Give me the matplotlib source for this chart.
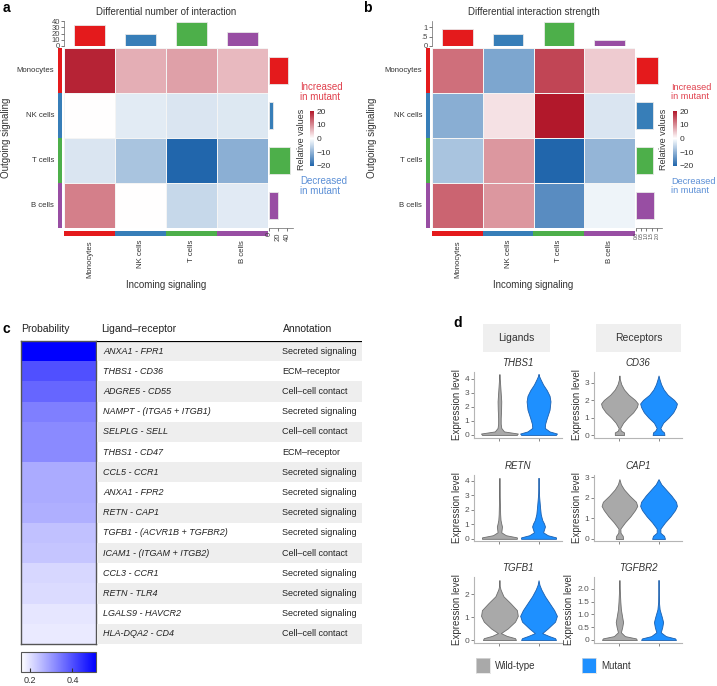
import numpy as np
import matplotlib
matplotlib.use("Agg")
import matplotlib.pyplot as plt
from matplotlib.colors import LinearSegmentedColormap, Normalize
from matplotlib.cm import ScalarMappable

plt.rcParams['font.family'] = ['Liberation Sans', 'DejaVu Sans']

W, H = 717, 686

# ---- panel a / b data ----
cell_types = ['Monocytes', 'NK cells', 'T cells', 'B cells']
cell_colors = ['#e41a1c', '#377eb8', '#4daf4a', '#984ea3']

# rows = outgoing (sender), cols = incoming (receiver)
count_diff = [[19, 7, 8.2, 6],
              [0, -2.6, -3.3, -3],
              [-3.3, -7.8, -20, -10.4],
              [11, 0, -5.1, -2.7]]
count_incoming = [33.6, 18.7, 38, 23]
count_outgoing = [42, 9, 47, 20]

strength_diff = [[12.4, -11.7, 16, 4.4],
                 [-10.5, 2.6, 20, -3.3],
                 [-7.7, 9, -20, -9.6],
                 [13.4, 9, -14.9, -1.5]]
strength_incoming = [0.88, 0.63, 1.28, 0.32]
strength_outgoing = [2.1, 1.65, 1.65, 1.7]

# ---- panel c data ----
pairs = ['ANXA1 - FPR1', 'THBS1 - CD36', 'ADGRE5 - CD55', 'NAMPT - (ITGA5 + ITGB1)',
         'SELPLG - SELL', 'THBS1 - CD47', 'CCL5 - CCR1', 'ANXA1 - FPR2', 'RETN - CAP1',
         'TGFB1 - (ACVR1B + TGFBR2)', 'ICAM1 - (ITGAM + ITGB2)', 'CCL3 - CCR1',
         'RETN - TLR4', 'LGALS9 - HAVCR2', 'HLA-DQA2 - CD4']
annotations = ['Secreted signaling', 'ECM\u2013receptor', 'Cell\u2013cell contact',
               'Secreted signaling', 'Cell\u2013cell contact', 'ECM\u2013receptor',
               'Secreted signaling', 'Secreted signaling', 'Secreted signaling',
               'Secreted signaling', 'Cell\u2013cell contact', 'Secreted signaling',
               'Secreted signaling', 'Secreted signaling', 'Cell\u2013cell contact']
probability = [0.51, 0.40, 0.37, 0.335, 0.32, 0.32, 0.275, 0.275, 0.27,
               0.245, 0.24, 0.215, 0.21, 0.195, 0.19]

# ---- panel d data: violin outlines (level, relative half width) ----
thbs1_y = [0, 0.1, 0.25, 0.5, 0.8, 1.2, 1.8, 2.4, 2.8, 3.2, 3.6, 4.0, 4.3, 4.35]
thbs1_wt = [0.95, 1.0, 0.25, 0.1, 0.07, 0.07, 0.09, 0.1, 0.08, 0.06, 0.04, 0.02, 0.005, 0]
thbs1_mut = [0.95, 1.0, 0.6, 0.34, 0.36, 0.45, 0.6, 0.65, 0.6, 0.45, 0.25, 0.1, 0, 0]

cd36_y = [0, 0.15, 0.25, 0.4, 0.7, 1.0, 1.3, 1.6, 1.8, 2.0, 2.3, 2.6, 2.9, 3.2, 3.4]
cd36_wt = [0.25, 0.25, 0.08, 0.04, 0.2, 0.45, 0.75, 0.95, 1.0, 0.85, 0.5, 0.25, 0.1, 0.02, 0]
cd36_mut = [0.32, 0.3, 0.18, 0.1, 0.25, 0.55, 0.8, 0.95, 1.0, 0.85, 0.5, 0.28, 0.14, 0.05, 0]

retn_y = [0, 0.1, 0.25, 0.45, 0.65, 0.85, 1.05, 1.3, 1.7, 2.2, 2.8, 3.5, 4.2]
retn_wt = [0.95, 0.95, 0.35, 0.1, 0.12, 0.14, 0.1, 0.06, 0.04, 0.03, 0.02, 0.01, 0]
retn_mut = [0.95, 0.95, 0.5, 0.25, 0.3, 0.35, 0.3, 0.2, 0.12, 0.08, 0.04, 0, 0]

cap1_y = [0, 0.15, 0.3, 0.5, 0.8, 1.1, 1.4, 1.6, 1.8, 2.1, 2.4, 2.65, 2.9]
cap1_wt = [0.2, 0.18, 0.06, 0.05, 0.3, 0.6, 0.85, 0.97, 0.9, 0.55, 0.25, 0.08, 0]
cap1_mut = [0.35, 0.3, 0.1, 0.1, 0.35, 0.65, 0.9, 1.0, 0.95, 0.7, 0.4, 0.15, 0]

tgfb1_y = [0, 0.08, 0.18, 0.3, 0.5, 0.8, 1.05, 1.3, 1.6, 1.9, 2.2, 2.4, 2.6]
tgfb1_wt = [0.9, 0.85, 0.4, 0.08, 0.45, 0.85, 1.0, 0.95, 0.6, 0.22, 0.06, 0, 0]
tgfb1_mut = [0.95, 0.9, 0.55, 0.2, 0.5, 0.9, 1.0, 0.85, 0.6, 0.35, 0.15, 0.05, 0]

tgfbr2_y = [0, 0.06, 0.15, 0.3, 0.5, 0.7, 0.9, 1.2, 1.5, 1.8, 2.1, 2.35]
tgfbr2_wt = [0.95, 0.9, 0.3, 0.08, 0.15, 0.2, 0.15, 0.08, 0.05, 0.03, 0.015, 0]
tgfbr2_mut = [0.95, 0.9, 0.4, 0.12, 0.2, 0.25, 0.18, 0.06, 0.02, 0, 0, 0]

RED_TXT = '#e0404d'
BLUE_TXT = '#5b8fd6'


def ax_px(fig, x0, y0, x1, y1):
    return fig.add_axes([x0 / W, 1 - y1 / H, (x1 - x0) / W, (y1 - y0) / H])


def txt(fig, x, y, s, **kw):
    return fig.text(x / W, 1 - y / H, s, **kw)


fig = plt.figure(figsize=(W / 100, H / 100), dpi=100)
diff_cmap = LinearSegmentedColormap.from_list('diff', ['#2166ac', '#ffffff', '#b2182b'])


def draw_interaction(hx0, hx1, title, values, incoming, outgoing, top_lim, top_ticks, top_labels,
                     right_lim, right_ticks, right_labels, right_fs, right_x1, cbar_x, note_x, note_fs,
                     rel_x, out_x):
    hy0, hy1 = 48, 228
    # heatmap
    ax = ax_px(fig, hx0, hy0, hx1, hy1)
    ax.pcolormesh(np.array(values), cmap=diff_cmap, vmin=-20, vmax=20,
                  edgecolors='#f4f4f4', linewidth=0.6)
    ax.set_ylim(4, 0)
    ax.set_xlim(0, 4)
    ax.axis('off')
    rh = (hy1 - hy0) / 4
    cw = (hx1 - hx0) / 4
    for i, name in enumerate(cell_types):
        txt(fig, hx0 - 10, hy0 + rh * (i + 0.5), name, ha='right', va='center', fontsize=5.6, color='#333')
        txt(fig, hx0 + cw * (i + 0.5), 240, name, ha='center', va='top', rotation=90, fontsize=5.6, color='#333')
    # colour strips
    strip_cmap = LinearSegmentedColormap.from_list('c', cell_colors, N=4)
    sl = ax_px(fig, hx0 - 6, hy0, hx0 - 2, hy1)
    sl.imshow(np.arange(4).reshape(4, 1), cmap=strip_cmap, aspect='auto')
    sl.axis('off')
    sb = ax_px(fig, hx0, 231, hx1, 236)
    sb.imshow(np.arange(4).reshape(1, 4), cmap=strip_cmap, aspect='auto')
    sb.axis('off')
    # top bars (incoming)
    at = ax_px(fig, hx0, 21, hx1, 46)
    at.bar(np.arange(4), incoming, width=0.6, color=cell_colors, edgecolor='#e8e8e8', linewidth=0.6)
    at.set_xlim(-0.5, 3.5)
    at.set_ylim(0, top_lim)
    at.set_yticks(top_ticks)
    at.set_yticklabels(top_labels)
    at.tick_params(axis='y', labelsize=5.5, length=2, pad=1, colors='#444', width=0.5)
    at.set_xticks([])
    for s in ['top', 'right', 'bottom']:
        at.spines[s].set_visible(False)
    at.spines['left'].set_linewidth(0.5)
    at.spines['left'].set_color('#666')
    # right bars (outgoing)
    ar = ax_px(fig, hx1 + 1, hy0, right_x1, hy1)
    ar.barh(np.arange(4), outgoing, height=0.6, color=cell_colors, edgecolor='#e8e8e8', linewidth=0.6)
    ar.set_ylim(3.5, -0.5)
    ar.set_xlim(0, right_lim)
    ar.set_xticks(right_ticks)
    ar.set_xticklabels(right_labels, rotation=90)
    ar.tick_params(axis='x', labelsize=right_fs, length=2, pad=1, colors='#444', width=0.5)
    ar.set_yticks([])
    for s in ['top', 'right', 'left']:
        ar.spines[s].set_visible(False)
    ar.spines['bottom'].set_linewidth(0.5)
    ar.spines['bottom'].set_color('#666')
    # colourbar
    cax = ax_px(fig, cbar_x, 111, cbar_x + 4, 166)
    cb = fig.colorbar(ScalarMappable(Normalize(-20, 20), diff_cmap), cax=cax, ticks=[20, 10, 0, -10, -20])
    cb.outline.set_visible(False)
    cb.ax.tick_params(labelsize=6, length=0, pad=2, colors='#333')
    cb.ax.set_yticklabels(['20', '10', '0', '\u221210', '\u221220'])
    txt(fig, rel_x, 139, 'Relative values', rotation=90, ha='center', va='center', fontsize=6.5, color='#333')
    txt(fig, note_x, 92, 'Increased\nin mutant', ha='left', va='center', fontsize=note_fs, color=RED_TXT,
        linespacing=1.1)
    txt(fig, note_x, 186, 'Decreased\nin mutant', ha='left', va='center', fontsize=note_fs, color=BLUE_TXT,
        linespacing=1.1)
    txt(fig, (hx0 + hx1) / 2, 12, title, ha='center', va='center', fontsize=7, color='#333')
    txt(fig, (hx0 + hx1) / 2, 285, 'Incoming signaling', ha='center', va='center', fontsize=7, color='#333')
    txt(fig, out_x, 138, 'Outgoing signaling', rotation=90, ha='center', va='center', fontsize=7, color='#333')


draw_interaction(64, 268, 'Differential number of interaction', count_diff, count_incoming, count_outgoing,
                 40, [0, 10, 20, 30, 40], ['0', '10', '20', '30', '40'],
                 53, [0, 20, 40], ['0', '20', '40'], 5.5, 293, 310, 300, 7, 302, 6)
draw_interaction(432, 635, 'Differential interaction strength', strength_diff, strength_incoming,
                 strength_outgoing, 1.32, [0, 0.5, 1], ['0', '.5', '1'],
                 2.5, [0, 0.5, 1, 1.5, 2], ['0.0', '0.5', '1.0', '1.5', '2.0'], 3.5, 662, 673, 671, 6.6,
                 664, 372)

txt(fig, 3, 8, 'a', fontsize=10, fontweight='bold', va='center')
txt(fig, 363, 8, 'b', fontsize=10, fontweight='bold', va='center')

# ---- panel c ----
txt(fig, 3, 329, 'c', fontsize=10, fontweight='bold', va='center')
txt(fig, 21, 329, 'Probability', fontsize=7.5, va='center', color='#222')
txt(fig, 101, 329, 'Ligand\u2013receptor', fontsize=7.5, va='center', color='#222')
txt(fig, 283, 329, 'Annotation', fontsize=7.5, va='center', color='#222')

prob_cmap = LinearSegmentedColormap.from_list('prob', ['#ffffff', '#0000ff'])
ap = ax_px(fig, 21, 341, 96, 644)
ap.imshow(np.array(probability).reshape(-1, 1), cmap=prob_cmap, vmin=0.16, vmax=0.51, aspect='auto')
ap.set_xticks([])
ap.set_yticks([])
for s in ap.spines.values():
    s.set_color('#555')
    s.set_linewidth(1.0)

atb = ax_px(fig, 97, 341, 362, 644)
n = len(pairs)
atb.set_xlim(0, 1)
atb.set_ylim(n, 0)
for i in range(n):
    if i % 2 == 0:
        atb.axhspan(i, i + 1, color='#eeeeee', lw=0)
    atb.text(0.023, i + 0.5, pairs[i], style='italic', fontsize=6.5, va='center', color='#222')
    atb.text(0.70, i + 0.5, annotations[i], fontsize=6.5, va='center', color='#222')
atb.axhline(0, color='black', lw=1.6)
atb.axis('off')

apc = ax_px(fig, 21, 652, 96, 672)
cbp = fig.colorbar(ScalarMappable(Normalize(0.16, 0.51), prob_cmap), cax=apc, orientation='horizontal',
                   ticks=[0.2, 0.4])
cbp.outline.set_edgecolor('#555')
cbp.outline.set_linewidth(0.8)
cbp.ax.tick_params(labelsize=6.5, length=3, direction='in', colors='#333', pad=3)

# ---- panel d ----
txt(fig, 453, 323, 'd', fontsize=10, fontweight='bold', va='center')
for (x0, x1, label) in [(483, 550, 'Ligands'), (596, 681, 'Receptors')]:
    sa = ax_px(fig, x0, 324, x1, 352)
    sa.set_facecolor('#efefef')
    sa.set_xticks([])
    sa.set_yticks([])
    for s in sa.spines.values():
        s.set_visible(False)
    sa.text(0.5, 0.5, label, ha='center', va='center', fontsize=7.5, color='#333', transform=sa.transAxes)

WT_FACE, WT_EDGE = '#a9a9a9', '#6e6e6e'
MUT_FACE, MUT_EDGE = '#1e90ff', '#1b5fae'
HALF = 0.47

violins = [
    ('THBS1', thbs1_y, thbs1_wt, thbs1_mut, 0, 0, (-0.22, 4.5), [0, 1, 2, 3, 4], None),
    ('CD36', cd36_y, cd36_wt, cd36_mut, 0, 1, (-0.17, 3.6), [0, 1, 2, 3], None),
    ('RETN', retn_y, retn_wt, retn_mut, 1, 0, (-0.15, 4.4), [0, 1, 2, 3, 4], None),
    ('CAP1', cap1_y, cap1_wt, cap1_mut, 1, 1, (-0.1, 3.1), [0, 1, 2, 3], None),
    ('TGFB1', tgfb1_y, tgfb1_wt, tgfb1_mut, 2, 0, (-0.13, 2.74), [0, 1, 2], None),
    ('TGFBR2', tgfbr2_y, tgfbr2_wt, tgfbr2_mut, 2, 1, (-0.12, 2.47), [0, 0.5, 1.0, 1.5, 2.0],
     ['0', '0.5', '1.0', '1.5', '2.0']),
]
row_px = [(372, 438), (475, 541), (577, 643)]
col_px = [(474, 562), (594, 682)]

for gene, ys, wt, mut, r, c, ylim, yticks, ylabels in violins:
    y0, y1 = row_px[r]
    x0, x1 = col_px[c]
    av = ax_px(fig, x0, y0, x1, y1)
    ys = np.array(ys)
    for xc, w, fc, ec in [(1, wt, WT_FACE, WT_EDGE), (2, mut, MUT_FACE, MUT_EDGE)]:
        w = np.array(w) * HALF
        av.fill_betweenx(ys, xc - w, xc + w, facecolor=fc, edgecolor=ec, linewidth=0.6)
    av.set_xlim(0.35, 2.6)
    av.set_ylim(*ylim)
    av.set_yticks(yticks)
    if ylabels:
        av.set_yticklabels(ylabels)
    av.set_xticks([1, 2])
    av.set_xticklabels([])
    av.tick_params(labelsize=6, length=2, width=0.5, colors='#555', pad=1.5)
    for s in ['top', 'right']:
        av.spines[s].set_visible(False)
    for s in ['left', 'bottom']:
        av.spines[s].set_color('#b5b5b5')
        av.spines[s].set_linewidth(0.8)
    av.set_ylabel('Expression level', fontsize=7, color='#333', labelpad=2)
    av.set_title(gene, style='italic', fontsize=7, color='#333', pad=4)

# legend
for (x0, face, label) in [(476, WT_FACE, 'Wild-type'), (582, MUT_FACE, 'Mutant')]:
    la = ax_px(fig, x0, 658, x0 + 14, 673)
    la.set_facecolor(face)
    la.set_xticks([])
    la.set_yticks([])
    for s in la.spines.values():
        s.set_color('#e0e0e0')
        s.set_linewidth(0.5)
    txt(fig, x0 + 19, 666, label, fontsize=7, va='center', color='#333')

fig.savefig('out.png', dpi=100)
